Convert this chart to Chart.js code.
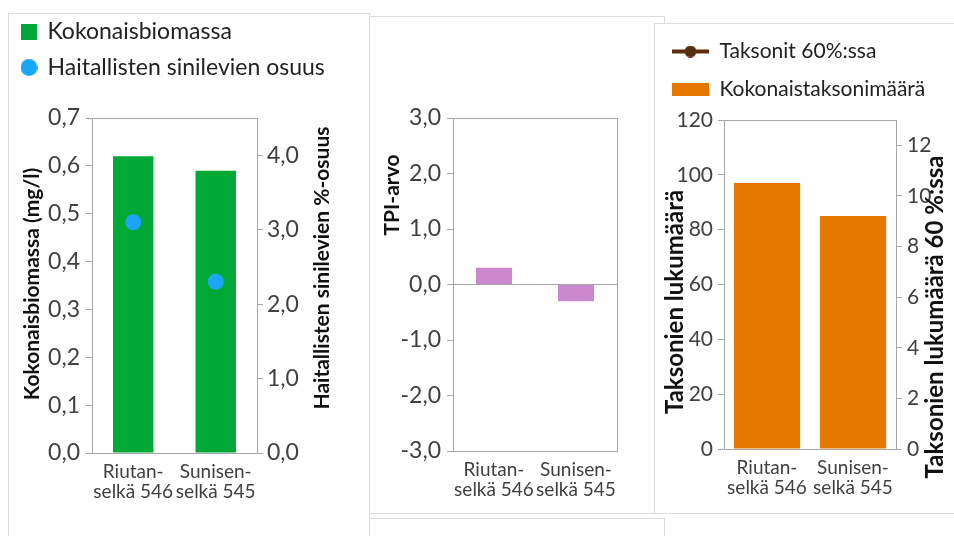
<!DOCTYPE html>
<html>
<head>
<meta charset="utf-8">
<script src="https://cdn.jsdelivr.net/npm/chart.js"></script>
<style>
  body { margin: 0; background: #fff; width: 954px; height: 536px; overflow: hidden; position: relative; font-family: Lato, sans-serif; }
  .panel { position: absolute; border: 1px solid #dcdcdc; background: #fff; box-sizing: border-box; }
  .wrap { position: absolute; }
</style>
</head>
<body>
<div class="panel" style="left:8px;top:13px;width:362px;height:540px;"></div>
<div class="panel" style="left:369px;top:518px;width:296px;height:40px;"></div>
<div class="panel" style="left:369px;top:16px;width:296px;height:498px;"></div>
<div class="panel" style="left:654px;top:23px;width:310px;height:491px;"></div>

<div class="wrap" style="left:9px;top:7px;width:360px;height:529px;"><canvas id="biomassa"></canvas></div>
<div class="wrap" style="left:370px;top:17px;width:283px;height:496px;"><canvas id="tpi"></canvas></div>
<div class="wrap" style="left:655px;top:24px;width:299px;height:489px;"><canvas id="taksonit"></canvas></div>

<script>
// paikat
const asemat = [['Riutan-', 'selkä 546'], ['Sunisen-', 'selkä 545']];

// kasviplankton
const kokonaisbiomassa = [0.62, 0.59];        // mg/l
const haitallisetOsuus = [3.1, 2.3];         // %
// TPI
const tpiArvo = [0.3, -0.3];
// taksonit
const kokonaistaksonit = [97, 85];
const taksonit60 = [null, null];             // ei pisteitä kuvassa

const tekstiVari = '#404040';
const akseliVari = '#a6a6a6';
const pilkku = (v, d) => v.toFixed(d).replace('.', ',');

// legendan pienet kuvat
const ikoniLaatikko = (w, h, vari) => {
    const c = document.createElement('canvas');
    c.width = w; c.height = h;
    const g = c.getContext('2d');
    g.fillStyle = vari;
    g.fillRect(0, 0, w, h);
    return c;
};
const ikoniPallo = (d, vari) => {
    const c = document.createElement('canvas');
    c.width = d; c.height = d;
    const g = c.getContext('2d');
    g.fillStyle = vari;
    g.beginPath(); g.arc(d / 2, d / 2, d / 2, 0, Math.PI * 2); g.fill();
    return c;
};
const ikoniViivaPallo = (w, h, vari) => {
    const c = document.createElement('canvas');
    c.width = w; c.height = h;
    const g = c.getContext('2d');
    g.strokeStyle = vari; g.fillStyle = vari; g.lineWidth = 4;
    g.beginPath(); g.moveTo(0, h / 2); g.lineTo(w, h / 2); g.stroke();
    g.beginPath(); g.arc(w / 2, h / 2, h / 2, 0, Math.PI * 2); g.fill();
    return c;
};

const legenda = (ikonit, koko, vali, leveys) => ({
    position: 'top',
    align: 'start',
    labels: {
        usePointStyle: true,
        pointStyleWidth: leveys,
        padding: vali,
        color: '#222',
        font: { family: 'Lato', size: koko },
        generateLabels: (chart) => chart.data.datasets.map((ds, i) => ({
            text: ds.label,
            pointStyle: ikonit[i],
            datasetIndex: i,
            hidden: false,
            fillStyle: 'transparent',
            strokeStyle: 'transparent',
            lineWidth: 0,
            fontColor: '#222',
        })),
    },
});

// lisätilaa legendan alle
const legendaVali = {
    id: 'legendaVali',
    afterInit(chart, args, opts) {
        const fit = chart.legend.fit;
        chart.legend.fit = function () {
            fit.call(this);
            this.height += opts.vali || 0;
        };
    },
};

// laatikko piirtoalueen ympärille + akselien otsikot (kierretty, luetaan alhaalta ylös)
const kehys = {
    id: 'kehys',
    afterDraw(chart, args, opts) {
        const { ctx, chartArea: a } = chart;
        ctx.save();
        ctx.strokeStyle = akseliVari;
        ctx.lineWidth = 1;
        ctx.strokeRect(Math.round(a.left) + 0.5, Math.round(a.top) + 0.5, Math.round(a.right - a.left), Math.round(a.bottom - a.top));
        ctx.fillStyle = '#111';
        ctx.font = 'bold ' + (opts.koko || 20) + 'px Lato';
        ctx.textAlign = 'center';
        ctx.textBaseline = 'middle';
        (opts.otsikot || []).forEach((o) => {
            ctx.save();
            ctx.translate(o.x, o.y);
            ctx.rotate(-Math.PI / 2);
            ctx.fillText(o.teksti, 0, 0);
            ctx.restore();
        });
        ctx.restore();
    },
};

const leveys = (w) => (scale) => { scale.width = w; };
const korkeus = (h) => (scale) => { scale.height = h; };

const xAkseli = (h) => ({
    afterFit: korkeus(h),
    grid: { display: false },
    border: { display: false },
    ticks: {
        color: tekstiVari,
        padding: 0,
        autoSkip: false,
        maxRotation: 0,
        minRotation: 0,
        font: { family: 'Lato', size: 19, lineHeight: 1.1 },
    },
});

const yAkseli = (w, lisat) => Object.assign({
    afterFit: leveys(w),
    grid: { drawOnChartArea: false, tickLength: 6, color: akseliVari },
    border: { color: akseliVari },
}, lisat);

Chart.defaults.animation = false;
Chart.defaults.responsive = true;
Chart.defaults.maintainAspectRatio = false;
Chart.defaults.plugins.tooltip.enabled = false;

// 1. kokonaisbiomassa ja haitalliset sinilevät
new Chart(document.getElementById('biomassa'), {
    type: 'bar',
    data: {
        labels: asemat,
        datasets: [
            {
                label: 'Kokonaisbiomassa',
                data: kokonaisbiomassa,
                backgroundColor: '#00a835',
                yAxisID: 'y',
                barPercentage: 0.49,
                categoryPercentage: 1,
                order: 2,
            },
            {
                type: 'line',
                label: 'Haitallisten sinilevien osuus',
                data: haitallisetOsuus,
                showLine: false,
                pointRadius: 8,
                pointBackgroundColor: '#1aa6f7',
                pointBorderWidth: 0,
                yAxisID: 'y1',
                order: 1,
            },
        ],
    },
    options: {
        plugins: {
            legend: legenda([ikoniLaatikko(16, 16, '#00a835'), ikoniPallo(17, '#1aa6f7')], 23, 13, 14),
            legendaVali: { vali: 29 },
            kehys: {
                koko: 21,
                otsikot: [
                    { teksti: 'Kokonaisbiomassa (mg/l)', x: 23, y: 277 },
                    { teksti: 'Haitallisten sinilevien %-osuus', x: 313, y: 261 },
                ],
            },
        },
        scales: {
            x: xAkseli(83),
            y: yAkseli(83, {
                min: 0, max: 0.7,
                ticks: { stepSize: 0.1, padding: 6, color: tekstiVari, font: { family: 'Lato', size: 23 }, callback: (v) => pilkku(v, 1) },
            }),
            y1: yAkseli(112, {
                position: 'right',
                min: 0, max: 4.5,
                ticks: { stepSize: 1, includeBounds: false, padding: 4, color: tekstiVari, font: { family: 'Lato', size: 23 }, callback: (v) => pilkku(v, 1) },
            }),
        },
    },
    plugins: [legendaVali, kehys],
});

// 2. TPI-arvo
new Chart(document.getElementById('tpi'), {
    type: 'bar',
    data: {
        labels: asemat,
        datasets: [{
            label: 'TPI',
            data: tpiArvo,
            backgroundColor: '#cc88cc',
            barPercentage: 0.44,
            categoryPercentage: 1,
        }],
    },
    options: {
        layout: { padding: { top: 101, right: 36 } },
        plugins: {
            legend: { display: false },
            kehys: { koko: 21, otsikot: [{ teksti: 'TPI-arvo', x: 22, y: 178 }] },
        },
        scales: {
            x: xAkseli(62),
            y: {
                afterFit: leveys(83),
                min: -3, max: 3,
                border: { color: akseliVari },
                grid: {
                    drawOnChartArea: true,
                    tickLength: 6,
                    tickColor: akseliVari,
                    color: (c) => (c.tick && c.tick.value === 0 ? akseliVari : 'transparent'),
                },
                ticks: { stepSize: 1, padding: 6, color: tekstiVari, font: { family: 'Lato', size: 23 }, callback: (v) => pilkku(v, 1) },
            },
        },
    },
    plugins: [kehys],
});

// 3. taksonien lukumäärä
new Chart(document.getElementById('taksonit'), {
    type: 'bar',
    data: {
        labels: asemat,
        datasets: [
            {
                type: 'line',
                label: 'Taksonit 60%:ssa',
                data: taksonit60,
                borderColor: '#5a2d0c',
                backgroundColor: '#5a2d0c',
                borderWidth: 3,
                pointRadius: 5,
                yAxisID: 'y1',
                order: 1,
            },
            {
                label: 'Kokonaistaksonimäärä',
                data: kokonaistaksonit,
                backgroundColor: '#e67800',
                yAxisID: 'y',
                barPercentage: 0.77,
                categoryPercentage: 1,
                order: 2,
            },
        ],
    },
    options: {
        plugins: {
            legend: legenda([ikoniViivaPallo(37, 12, '#5a2d0c'), ikoniLaatikko(37, 13, '#e67800')], 21, 17, 37),
            legendaVali: { vali: 10 },
            kehys: {
                koko: 24,
                otsikot: [
                    { teksti: 'Taksonien lukumäärä', x: 20, y: 278 },
                    { teksti: 'Taksonien lukumäärä 60 %:ssa', x: 280, y: 293 },
                ],
            },
        },
        scales: {
            x: xAkseli(64),
            y: yAkseli(69, {
                min: 0, max: 120,
                ticks: { stepSize: 20, padding: 5, color: tekstiVari, font: { family: 'Lato', size: 21 } },
            }),
            y1: yAkseli(58, {
                position: 'right',
                min: 0, max: 13,
                ticks: { stepSize: 2, includeBounds: false, padding: 5, color: tekstiVari, font: { family: 'Lato', size: 21 } },
            }),
        },
    },
    plugins: [legendaVali, kehys],
});
</script>
</body>
</html>
